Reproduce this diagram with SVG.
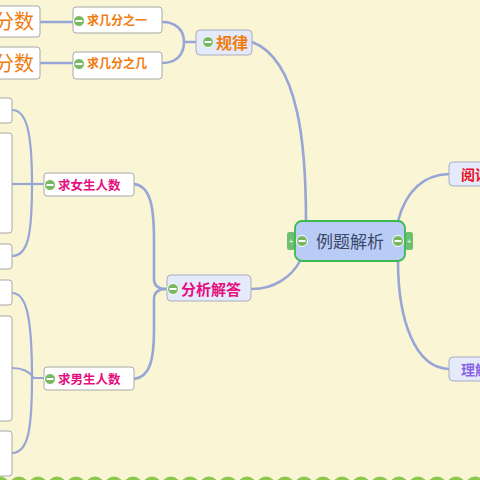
<svg xmlns="http://www.w3.org/2000/svg" width="480" height="480" viewBox="0 0 480 480">
<defs>
<style>
.bg{fill:#faf5d5}
.ln{fill:none;stroke:#97a6d6;stroke-width:2.6;stroke-linecap:round}
.lnt{fill:none;stroke:#97a6d6;stroke-width:2.2}
.w{fill:#ffffff;stroke:#a8a8a8;stroke-width:1}
.b{fill:#e4eafa;stroke:#a8acc0;stroke-width:1}
.t{font-family:"Noto Sans CJK SC","Noto Sans",sans-serif;font-weight:bold}
.or{fill:#f07c10}
.mg{fill:#e5107f}
.mn{fill:#78b860;stroke:#ffffff;stroke-width:1}
.dot{fill:#8cc84e}
</style>
<g id="minus"><circle r="5.5" class="mn"/><rect x="-3.5" y="-1" width="7" height="2" fill="#fff"/></g>
</defs>
<rect class="bg" x="0" y="0" width="480" height="480"/>
<g id="connectors">
<path class="ln" d="M306,221 C306,150 300,60 252,42"/>
<path class="ln" d="M300,261 C292,276 275,289 252,289"/>
<path class="ln" d="M398,221 C405,195 420,175 449,174"/>
<path class="ln" d="M398,261 C398,320 415,368 449,369"/>
<path class="ln" d="M184,42 L196,42"/>
<path class="ln" d="M162,22 C176,22 184,30 184,42 C184,55 176,63 162,63"/>
<path class="ln" d="M40,22 L73,22"/>
<path class="ln" d="M40,63 L73,63"/>
<path class="ln" d="M134,184 C150,186 154,205 154,240 L154,279 C154,286 158,289 167,289"/>
<path class="ln" d="M134,379 C150,377 154,360 154,330 L154,299 C154,292 158,289 167,289"/>
<path class="lnt" d="M12,110 C26,110 32,130 32,184 C32,235 28,256 12,256"/>
<path class="lnt" d="M12,184 L44,184"/>
<path class="lnt" d="M12,293 C26,293 32,315 32,378 C32,430 28,453 12,453"/>
<path class="lnt" d="M12,368 C24,368 30,372 34,378 L44,378"/>
</g>
<g id="center">
<rect x="287" y="232" width="8" height="18" rx="2.5" fill="#6cc070"/>
<rect x="405" y="232" width="8" height="18" rx="2.5" fill="#6cc070"/>
<text x="291" y="244" font-family="Liberation Sans,sans-serif" font-size="8" fill="#fff" text-anchor="middle">+</text>
<text x="409" y="244" font-family="Liberation Sans,sans-serif" font-size="8" fill="#fff" text-anchor="middle">+</text>
<rect x="295" y="221" width="110" height="40" rx="7" fill="#b8ccf6" stroke="#3cb84e" stroke-width="1.8"/>
<use href="#minus" x="302" y="241"/>
<use href="#minus" x="398" y="241"/>
<text x="350" y="248" font-family="Noto Sans CJK SC,Noto Sans,sans-serif" font-size="17" fill="#3c4868" text-anchor="middle">例题解析</text>
</g>
<g id="n-yuedu">
<rect class="b" x="449" y="162" width="40" height="24" rx="4"/>
<text class="t" x="461" y="180" font-size="14" fill="#e8101c">阅读</text>
</g>
<g id="n-lijie">
<rect class="b" x="449" y="357" width="40" height="24" rx="4"/>
<text class="t" x="461" y="375" font-size="14" fill="#8a64e6">理解</text>
</g>
<g id="n-guilv">
<rect class="b" x="196" y="30" width="56" height="25" rx="4"/>
<use href="#minus" x="208" y="42"/>
<text class="t or" x="216" y="48.5" font-size="16">规律</text>
</g>
<g id="n-qiu1">
<rect class="w" x="73" y="7" width="89" height="26" rx="3"/>
<use href="#minus" x="79" y="21"/>
<text class="t or" x="87" y="25" font-size="12">求几分之一</text>
</g>
<g id="n-qiu2">
<rect class="w" x="73" y="52" width="89" height="27" rx="3"/>
<use href="#minus" x="79" y="64"/>
<text class="t or" x="87" y="68" font-size="12">求几分之几</text>
</g>
<g id="n-fenshu1">
<rect class="w" x="-10" y="6" width="50" height="31" rx="3"/>
<text x="-6" y="29" font-family="Noto Sans CJK SC,Noto Sans,sans-serif" font-size="20" fill="#f07c10">分数</text>
</g>
<g id="n-fenshu2">
<rect class="w" x="-10" y="47" width="50" height="32" rx="3"/>
<text x="-6" y="71" font-family="Noto Sans CJK SC,Noto Sans,sans-serif" font-size="20" fill="#f07c10">分数</text>
</g>
<g id="n-fenxi">
<rect class="b" x="167" y="275" width="84" height="26" rx="4"/>
<use href="#minus" x="173" y="289"/>
<text class="t mg" x="181" y="295" font-size="15">分析解答</text>
</g>
<g id="n-nv">
<rect class="w" x="44" y="173" width="90" height="23" rx="3"/>
<use href="#minus" x="50" y="185"/>
<text class="t mg" x="58" y="190" font-size="12.5">求女生人数</text>
</g>
<g id="n-nan">
<rect class="w" x="44" y="367" width="90" height="23" rx="3"/>
<use href="#minus" x="50" y="379"/>
<text class="t mg" x="58" y="384" font-size="12.5">求男生人数</text>
</g>
<g id="left-boxes">
<rect class="w" x="-5" y="98" width="17" height="25" rx="3"/>
<rect class="w" x="-5" y="133" width="17" height="100" rx="3"/>
<rect class="w" x="-5" y="244" width="17" height="25" rx="3"/>
<rect class="w" x="-5" y="280" width="17" height="25" rx="3"/>
<rect class="w" x="-5" y="316" width="17" height="105" rx="3"/>
<rect class="w" x="-5" y="431" width="17" height="45" rx="3"/>
</g>
<g id="border">
<circle class="dot" cx="0" cy="486" r="9.5"/><circle class="dot" cx="19" cy="486" r="9.5"/><circle class="dot" cx="38" cy="486" r="9.5"/><circle class="dot" cx="57" cy="486" r="9.5"/><circle class="dot" cx="76" cy="486" r="9.5"/><circle class="dot" cx="95" cy="486" r="9.5"/><circle class="dot" cx="114" cy="486" r="9.5"/><circle class="dot" cx="133" cy="486" r="9.5"/><circle class="dot" cx="152" cy="486" r="9.5"/><circle class="dot" cx="171" cy="486" r="9.5"/><circle class="dot" cx="190" cy="486" r="9.5"/><circle class="dot" cx="209" cy="486" r="9.5"/><circle class="dot" cx="228" cy="486" r="9.5"/><circle class="dot" cx="247" cy="486" r="9.5"/><circle class="dot" cx="266" cy="486" r="9.5"/><circle class="dot" cx="285" cy="486" r="9.5"/><circle class="dot" cx="304" cy="486" r="9.5"/><circle class="dot" cx="323" cy="486" r="9.5"/><circle class="dot" cx="342" cy="486" r="9.5"/><circle class="dot" cx="361" cy="486" r="9.5"/><circle class="dot" cx="380" cy="486" r="9.5"/><circle class="dot" cx="399" cy="486" r="9.5"/><circle class="dot" cx="418" cy="486" r="9.5"/><circle class="dot" cx="437" cy="486" r="9.5"/><circle class="dot" cx="456" cy="486" r="9.5"/><circle class="dot" cx="475" cy="486" r="9.5"/>
</g>
</svg>
